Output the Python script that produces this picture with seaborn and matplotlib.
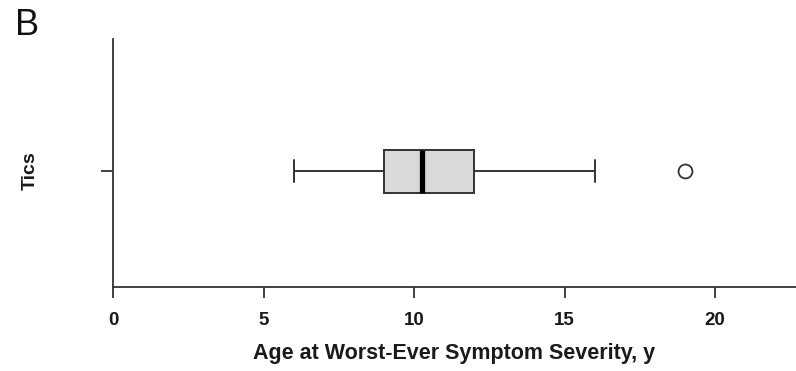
import matplotlib
matplotlib.use("Agg")
import matplotlib.pyplot as plt
from matplotlib import font_manager
import seaborn as sns
import pandas as pd
import numpy as np

# ages at worst-ever tic severity (whiskers 6-16, box 9-12, median ~10.25, outlier 19)
ages = [6, 7, 8, 8.5, 9, 9, 9.5, 10, 10, 10, 10.5, 11, 11, 11.5, 12, 12, 13, 14, 16, 19]
group = ["Tics"] * len(ages)
x_ticks = [0, 5, 10, 15, 20]

df = pd.DataFrame({"age": ages, "group": group})

sns.set_style("ticks")
installed = {f.name for f in font_manager.fontManager.ttflist}
narrow = [n for n in ["Liberation Sans Narrow", "Liberation Sans"] if n in installed]
plt.rcParams["font.family"] = narrow + ["DejaVu Sans"]

ink = "#333333"
fig = plt.figure(figsize=(7.96, 3.71), dpi=100)
ax = fig.add_axes([113 / 796, 1 - 287 / 371, 1 - 113 / 796, (287 - 39) / 371])

sns.boxplot(data=df, x="age", y="group", orient="h", width=0.4, whis=1.5,
            color="#d9d9d9", linecolor=ink, linewidth=1.4,
            medianprops={"color": "black", "linewidth": 3.8},
            flierprops={"marker": "o", "markersize": 10, "markerfacecolor": "white",
                        "markeredgecolor": ink, "markeredgewidth": 1.3},
            ax=ax)

ax.set_xlim(0, (796 - 113) / 30.1)
ax.set_ylim(1.079, -1.228)
ax.set_xticks(x_ticks)
ax.set_xticklabels([str(t) for t in x_ticks], fontsize=13.5, fontweight="bold", color="#1a1a1a")
ax.set_yticks([0])
ax.set_yticklabels([""])
ax.set_ylabel("")
ax.set_xlabel("Age at Worst-Ever Symptom Severity, y", fontsize=15.5, fontweight="bold",
              color="#1a1a1a", labelpad=10)
ax.tick_params(axis="x", length=8, width=1.3, color=ink, pad=10)
ax.tick_params(axis="y", length=9, width=1.3, color=ink)
for s in ["top", "right"]:
    ax.spines[s].set_visible(False)
for s in ["left", "bottom"]:
    ax.spines[s].set_color(ink)
    ax.spines[s].set_linewidth(1.3)

fig.text(30 / 796, 1 - 171 / 371, "Tics", rotation=90, ha="center", va="center",
         fontsize=14, fontweight="bold", color="#1a1a1a")
fig.text(15 / 796, 1 - 8 / 371, "B", ha="left", va="top", fontsize=26,
         family=["Liberation Sans", "DejaVu Sans"], color="#111111")

fig.savefig("out.png", dpi=100)
